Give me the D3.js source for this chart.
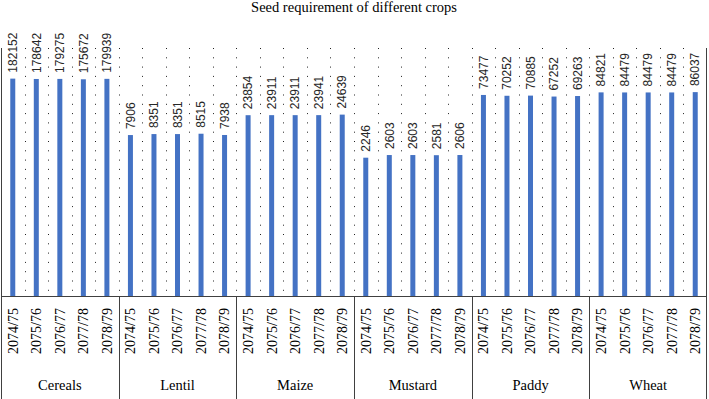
<!DOCTYPE html>
<html>
<head>
<meta charset="utf-8">
<script src="https://cdn.jsdelivr.net/npm/d3@7"></script>
<style>
  body { margin: 0; background: #fff; }
</style>
</head>
<body>
<script>
// data
var crops = ["Cereals", "Lentil", "Maize", "Mustard", "Paddy", "Wheat"];
var years = ["2074/75", "2075/76", "2076/77", "2077/78", "2078/79"];
var cereals = [182152, 178642, 179275, 175672, 179939];
var lentil = [7906, 8351, 8351, 8515, 7938];
var maize = [23854, 23911, 23911, 23941, 24639];
var mustard = [2246, 2603, 2603, 2581, 2606];
var paddy = [73477, 70252, 70885, 67252, 69263];
var wheat = [84821, 84479, 84479, 84479, 86037];
var values = [cereals, lentil, maize, mustard, paddy, wheat];

var width = 709, height = 399;
var plotLeft = 1, plotRight = 707, plotTop = 48, base = 296.5;

var svg = d3.select("body").append("svg").attr("width", width).attr("height", height);

// flatten to one row per bar
var rows = [];
crops.forEach(function (c, i) {
    years.forEach(function (y, j) {
        rows.push({ crop: c, year: y, value: values[i][j] });
    });
});

var xGroup = d3.scaleBand().domain(crops).range([plotLeft, plotRight]).padding(0);
var xYear = d3.scaleBand().domain(years).range([0, xGroup.bandwidth()]).padding(0);
var yScale = d3.scaleLog().domain([1, 1e6]).range([base, plotTop]);

function cx(d) { return xGroup(d.crop) + xYear(d.year) + xYear.bandwidth() / 2; }

// dotted gridlines between bar slots
var slots = d3.range(1, rows.length);
svg.append("g").selectAll("line").data(slots).enter()
    .append("line")
    .attr("x1", function (i) { return Math.round(plotLeft + i * xYear.bandwidth()) + 0.5; })
    .attr("x2", function (i) { return Math.round(plotLeft + i * xYear.bandwidth()) + 0.5; })
    .attr("y1", plotTop).attr("y2", base)
    .attr("stroke", "#222").attr("stroke-width", 1)
    .attr("stroke-dasharray", "1,8.3");

// bars
var barW = 5;
svg.append("g").selectAll("rect").data(rows).enter()
    .append("rect")
    .attr("x", function (d) { return cx(d) - barW / 2; })
    .attr("y", function (d) { return yScale(d.value); })
    .attr("width", barW)
    .attr("height", function (d) { return base - yScale(d.value); })
    .attr("fill", "#4472C4");

// value labels
svg.append("g").selectAll("text").data(rows).enter()
    .append("text")
    .attr("transform", function (d) { return "translate(" + cx(d) + "," + (yScale(d.value) - 6) + ") rotate(-90)"; })
    .attr("dy", "0.35em")
    .attr("font-family", "Liberation Sans, Arial, sans-serif")
    .attr("font-size", 12)
    .attr("fill", "#262626")
    .text(function (d) { return d.value; });

// frame lines
var frame = svg.append("g").attr("stroke", "#404040").attr("stroke-width", 1);
frame.append("line").attr("x1", plotLeft).attr("x2", plotRight).attr("y1", base).attr("y2", base);
frame.append("line").attr("x1", plotLeft + 0.5).attr("x2", plotLeft + 0.5).attr("y1", plotTop).attr("y2", height);
frame.append("line").attr("x1", plotRight - 0.5).attr("x2", plotRight - 0.5).attr("y1", plotTop).attr("y2", height);
frame.selectAll("line.sep").data(crops.slice(1)).enter()
    .append("line").attr("class", "sep")
    .attr("x1", function (c) { return Math.round(xGroup(c)) + 0.5; })
    .attr("x2", function (c) { return Math.round(xGroup(c)) + 0.5; })
    .attr("y1", base).attr("y2", height);

// year labels
svg.append("g").selectAll("text").data(rows).enter()
    .append("text")
    .attr("transform", function (d) { return "translate(" + cx(d) + ",308) rotate(-90)"; })
    .attr("text-anchor", "end")
    .attr("dy", "0.35em")
    .attr("font-family", "Liberation Serif, Times New Roman, serif")
    .attr("font-size", 14)
    .attr("fill", "#000")
    .text(function (d) { return d.year; });

// crop labels
svg.append("g").selectAll("text").data(crops).enter()
    .append("text")
    .attr("x", function (c) { return xGroup(c) + xGroup.bandwidth() / 2; })
    .attr("y", 390)
    .attr("text-anchor", "middle")
    .attr("font-family", "Liberation Serif, Times New Roman, serif")
    .attr("font-size", 14.5)
    .attr("fill", "#000")
    .text(function (c) { return c; });

// title
svg.append("text")
    .attr("x", 354).attr("y", 12)
    .attr("text-anchor", "middle")
    .attr("font-family", "Liberation Serif, Times New Roman, serif")
    .attr("font-size", 14.5)
    .attr("fill", "#000")
    .text("Seed requirement of different crops");
</script>
</body>
</html>
